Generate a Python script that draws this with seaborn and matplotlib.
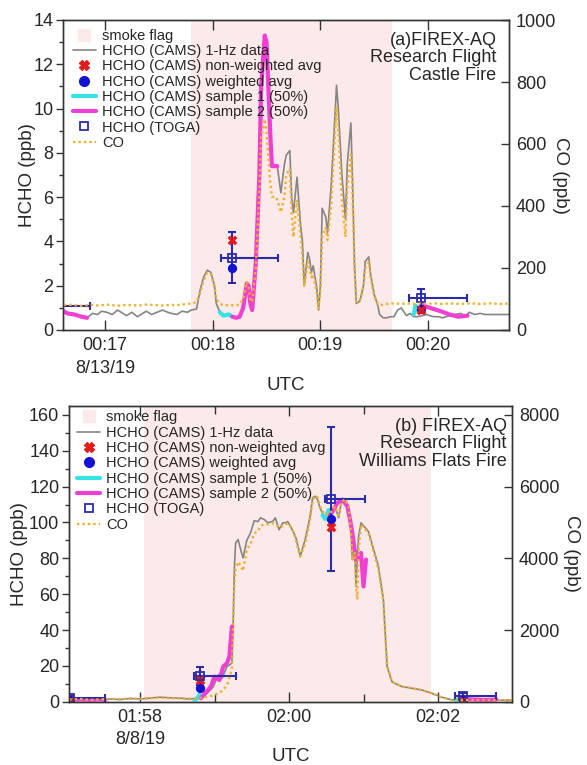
import numpy as np
import pandas as pd
import matplotlib
matplotlib.use("Agg")
import matplotlib.pyplot as plt
from matplotlib.lines import Line2D
from matplotlib.ticker import FixedLocator, FixedFormatter, MultipleLocator
import seaborn as sns

# ---------------- DATA: panel (a) Castle Fire, time in seconds since 00:00 UTC ----------------
a_time = [997, 999, 1003, 1007, 1010, 1013, 1016, 1018, 1021, 1024, 1027, 1030, 1032, 1035, 1038,
          1041, 1043, 1046, 1049, 1052, 1055, 1057, 1060, 1063, 1066, 1068, 1071, 1073, 1075, 1077,
          1079, 1081, 1082, 1084, 1086, 1089, 1091, 1093, 1095, 1097, 1099, 1100, 1101, 1102, 1104,
          1106, 1107, 1109, 1110, 1112, 1113, 1115, 1116, 1118, 1120, 1121, 1123, 1124, 1125, 1127,
          1129, 1130, 1131, 1133, 1134, 1135, 1136, 1138, 1139, 1140, 1141, 1143, 1144, 1146, 1148,
          1149, 1150, 1152, 1154, 1155, 1157, 1158, 1159, 1160, 1162, 1164, 1165, 1167, 1168, 1170,
          1172, 1173, 1175, 1177, 1179, 1181, 1183, 1185, 1188, 1190, 1192, 1194, 1197, 1199, 1201,
          1203, 1206, 1208, 1210, 1212, 1215, 1218, 1221, 1223, 1226, 1229, 1232, 1235, 1237, 1240,
          1243, 1245]
a_hcho = [0.85, 0.75, 0.7, 0.6, 0.55, 0.75, 0.7, 0.85, 0.8, 0.7, 0.9, 0.75, 0.65, 0.8, 0.6,
          0.75, 0.85, 0.7, 0.8, 0.9, 0.8, 0.75, 0.7, 0.85, 0.8, 0.9, 0.95, 1.8, 2.4, 2.7,
          2.6, 2.0, 1.2, 0.8, 0.65, 0.7, 0.6, 0.55, 0.6, 1.0, 2.1, 2.0, 1.2, 0.9, 3.0,
          7.0, 11.0, 13.3, 13.0, 9.0, 7.4, 7.4, 7.4, 6.2, 7.5, 7.9, 8.1, 6.0, 5.3, 6.9,
          4.7, 4.0, 2.0, 3.5, 3.2, 2.6, 2.9, 1.9, 0.9, 2.0, 5.5, 5.1, 4.4, 6.5, 9.5,
          11.05, 10.0, 7.0, 5.0, 7.5, 9.35, 6.5, 3.0, 1.2, 1.3, 2.0, 3.1, 3.3, 2.5, 1.6,
          1.1, 0.7, 0.55, 0.55, 0.6, 0.6, 0.9, 1.0, 0.65, 0.75, 0.6, 0.6, 0.65, 0.7, 0.65,
          0.6, 0.6, 0.55, 0.6, 0.65, 0.7, 0.75, 0.65, 0.8, 0.7, 0.75, 0.7, 0.7, 0.7, 0.7,
          0.7, 0.7]
a_co = [80, 82, 80, 78, 80, 81, 79, 80, 82, 80, 78, 80, 81, 80, 79,
        80, 82, 81, 80, 79, 80, 81, 80, 82, 84, 86, 90, 120, 160, 185,
        180, 140, 100, 85, 80, 80, 80, 80, 82, 100, 155, 140, 100, 90, 200,
        450, 620, 680, 640, 480, 430, 430, 420, 380, 430, 500, 520, 380, 300, 420,
        300, 240, 140, 220, 200, 170, 180, 120, 70, 130, 300, 330, 290, 400, 620,
        720, 640, 420, 300, 460, 565, 420, 200, 90, 95, 140, 200, 220, 170, 110,
        85, 80, 82, 84, 85, 86, 85, 84, 86, 85, 84, 86, 85, 84, 85,
        86, 85, 84, 85, 86, 85, 84, 85, 86, 85, 84, 85, 86, 85, 84,
        85, 85]
a_s1_segments = [
    ([1084, 1086, 1089, 1091], [0.8, 0.65, 0.7, 0.6]),
    ([1192, 1193, 1195, 1196], [0.7, 1.1, 0.8, 0.9]),
]
a_s2_segments = [
    ([997, 999, 1003, 1007, 1010], [0.85, 0.75, 0.7, 0.6, 0.55]),
    ([1091, 1093, 1095, 1097, 1099, 1100, 1101, 1102, 1104, 1106, 1107, 1109, 1110, 1112,
      1113, 1115, 1116],
     [0.6, 0.55, 0.6, 1.0, 2.1, 2.0, 1.2, 0.9, 3.0, 7.0, 11.0, 13.3, 13.0, 9.0, 7.4, 7.4, 7.4]),
    ([1196, 1201, 1207, 1212, 1217, 1222], [1.15, 1.0, 0.85, 0.7, 0.6, 0.65]),
]
a_smoke = (1068, 1180)
a_avg_time = [986, 1091, 1196]
a_nonweighted = [1.0, 4.06, 0.9]
a_weighted = [1.0, 2.79, 0.95]
a_toga = [1.07, 3.27, 1.43]
a_toga_yerr = [0.1, 1.15, 0.4]
a_toga_xerr_lo = [6.5, 6.5, 6.5]
a_toga_xerr_hi = [25.6, 25.6, 25.6]

# ---------------- DATA: panel (b) Williams Flats Fire ----------------
b_time = [7023, 7032, 7040, 7048, 7056, 7064, 7072, 7080, 7088, 7096, 7104, 7112, 7120, 7125,
          7128, 7132, 7136, 7139, 7143, 7146, 7150, 7154, 7155, 7156, 7157, 7159, 7161, 7163,
          7166, 7169, 7172, 7175, 7177, 7180, 7183, 7187, 7189, 7192, 7195, 7197, 7199, 7201,
          7204, 7206, 7209, 7213, 7217, 7219, 7221, 7223, 7225, 7229, 7233, 7237, 7240, 7242,
          7245, 7248, 7250, 7251, 7253, 7254, 7255, 7256, 7258, 7264, 7272, 7276, 7279, 7283,
          7291, 7299, 7307, 7315, 7323, 7331, 7339, 7347, 7355, 7363, 7373, 7380]
b_hcho = [1.0, 1.2, 0.8, 1.0, 1.5, 1.2, 1.8, 1.5, 2.0, 2.5, 2.2, 2.0, 1.5, 1.8,
          2.5, 3.5, 6.0, 8.4, 15.0, 13.0, 19.6, 21.5, 43.0, 75.0, 88.6, 90.5, 85.0, 80.2,
          90.0, 94.2, 101.0, 100.5, 102.6, 101.7, 99.8, 100.7, 102.6, 96.0, 99.8, 99.8, 100.5, 98.0,
          94.0, 90.5, 81.1, 90.5, 103.4, 113.8, 114.7, 112.8, 108.0, 102.6, 104.0, 109.0, 102.6, 111.0,
          112.8, 109.0, 94.2, 79.3, 83.0, 64.3, 79.3, 92.0, 99.8, 95.0, 75.6, 57.0, 19.6, 11.0,
          8.4, 7.5, 6.5, 4.7, 2.5, 1.0, 0.8, 1.0, 0.7, 0.9, 0.8, 1.0]
b_co = [60, 75, 50, 65, 80, 70, 90, 80, 100, 110, 100, 95, 85, 90,
        100, 120, 150, 180, 230, 300, 450, 900, 2200, 3300, 3700, 3900, 3800, 3650,
        4250, 4400, 4700, 4750, 4900, 4950, 4950, 4980, 4950, 4850, 4900, 4950, 4980, 4900,
        4700, 4450, 4050, 4400, 5100, 5600, 5750, 5700, 5450, 5200, 5250, 5450, 5200, 5550,
        5650, 5450, 4700, 3950, 4150, 3200, 2850, 4200, 4950, 4700, 3700, 2800, 1000, 560,
        420, 375, 325, 235, 120, 50, 40, 50, 40, 45, 40, 45]
b_s1_segments = [
    ([7124, 7126, 7128], [0.5, 2.0, 4.0]),
    ([7227, 7229, 7232], [104.0, 102.0, 107.0]),
    ([7334, 7338], [1.0, 1.3]),
]
b_s2_segments = [
    ([7023, 7032, 7040, 7048, 7052], [1.0, 1.2, 1.0, 1.2, 1.0]),
    ([7129, 7137, 7140, 7144, 7147, 7150, 7152, 7154], [1.9, 8.4, 14.0, 12.1, 19.6, 21.5, 25.2, 42.0]),
    ([7233, 7235, 7239, 7243, 7247, 7249, 7251, 7254, 7256, 7258, 7260, 7262],
     [104.0, 106.0, 111.0, 112.8, 109.0, 102.0, 94.2, 79.3, 80.0, 83.0, 64.3, 79.3]),
    ([7340, 7350, 7358, 7367], [1.5, 1.2, 1.0, 1.2]),
]
b_smoke = (7083, 7314)
b_avg_time = [7024, 7128, 7234, 7340]
b_nonweighted = [0.5, 12.1, 97.6, 0.5]
b_weighted = [0.8, 7.5, 101.7, 0.8]
b_toga = [2.0, 14.4, 113.2, 3.2]
b_toga_yerr = [1.0, 5.2, 40.0, 1.5]
b_toga_xerr_lo = [5.2, 4.6, 5.4, 6.1]
b_toga_xerr_hi = [27.4, 29.0, 27.6, 26.7]

# ---------------- STYLE ----------------
sns.set_theme(style="ticks")
plt.rcParams["font.family"] = ["Liberation Sans", "DejaVu Sans"]
plt.rcParams["axes.edgecolor"] = "#333333"
plt.rcParams["axes.linewidth"] = 1.0

C_SMOKE = "#fce9e9"
C_GRAY = "#858585"
C_CO = "#eeb12c"
C_CYAN = "#35e3e6"
C_MAG = "#f03fd2"
C_RED = "#e41a1c"
C_BLUE = "#1212d0"
C_TOGA = "#2c2ca8"

fig = plt.figure(figsize=(5.87, 7.65), dpi=100)


def panel(rect, t, hcho, co, s1, s2, smoke, avg_t, nonw, wavg, toga, toga_yerr, xlo, xhi,
          xlim, ylim, colim, coticks, yticks_major, yminor, xmajor, xlabels, xminor, text, text_xy,
          legend_xy, ylpad, colpad):
    ax = fig.add_axes(rect)
    ax2 = ax.twinx()
    ax.axvspan(smoke[0], smoke[1], color=C_SMOKE, lw=0, zorder=0)
    df = pd.DataFrame({"t": t, "hcho": hcho, "co": co})
    sns.lineplot(data=df, x="t", y="hcho", ax=ax, color=C_GRAY, lw=1.2, estimator=None,
                 sort=False, zorder=2)
    for st, sv in s1:
        sns.lineplot(x=st, y=sv, ax=ax, color=C_CYAN, lw=3, estimator=None, sort=False, zorder=3)
    for st, sv in s2:
        sns.lineplot(x=st, y=sv, ax=ax, color=C_MAG, lw=3, estimator=None, sort=False, zorder=3)
    ax.errorbar(avg_t, toga, yerr=toga_yerr, xerr=[xlo, xhi], fmt="none", ecolor=C_TOGA,
                elinewidth=1.5, capsize=3, capthick=1.5, zorder=4)
    sns.scatterplot(x=avg_t, y=wavg, ax=ax, color=C_BLUE, marker="o", s=45, edgecolor=C_BLUE,
                    linewidth=0, zorder=5)
    sns.scatterplot(x=avg_t, y=nonw, ax=ax, color=C_RED, marker="X", s=50, edgecolor=C_RED,
                    linewidth=0, zorder=6)
    ax.plot(avg_t, toga, "s", mfc="none", mec=C_TOGA, ms=6, mew=1.3, zorder=7)
    sns.lineplot(data=df, x="t", y="co", ax=ax2, color=C_CO, lw=1.7, ls=(0, (1, 1.3)),
                 estimator=None, sort=False)

    ax.set_xlim(*xlim)
    ax.set_ylim(*ylim)
    ax2.set_ylim(*colim)
    ax.xaxis.set_major_locator(FixedLocator(xmajor))
    ax.xaxis.set_major_formatter(FixedFormatter(xlabels))
    ax.xaxis.set_minor_locator(FixedLocator(xminor))
    ax.yaxis.set_major_locator(FixedLocator(yticks_major))
    ax.yaxis.set_minor_locator(MultipleLocator(yminor))
    ax2.yaxis.set_major_locator(FixedLocator(coticks))
    ax.tick_params(axis="x", which="major", direction="in", top=True, bottom=True, length=7,
                   width=1, labelsize=13, pad=5, color="#333333")
    ax.tick_params(axis="x", which="minor", direction="in", top=True, bottom=True, length=6,
                   width=1, color="#333333")
    ax.tick_params(axis="y", which="major", direction="out", length=5, width=1, labelsize=13,
                   pad=2, color="#333333")
    ax.tick_params(axis="y", which="minor", direction="out", length=3, width=1, color="#333333")
    ax2.tick_params(axis="y", which="major", direction="in", length=6, width=1, labelsize=13,
                    pad=5, color="#333333")
    for lab in ax.get_xticklabels():
        lab.set_linespacing(1.45)
    ax.set_xlabel("UTC", fontsize=13.5, labelpad=0)
    ax.set_ylabel("HCHO (ppb)", fontsize=13.5, labelpad=ylpad)
    ax2.set_ylabel("CO (ppb)", fontsize=13.5, rotation=270, labelpad=colpad)
    for a in (ax, ax2):
        for s in a.spines.values():
            s.set_color("#333333")
    ax.text(text_xy[0], text_xy[1], text, transform=ax.transAxes, ha="right", va="top",
            fontsize=13, linespacing=1.05, zorder=8)

    handles = [
        Line2D([], [], ls="none", marker="s", ms=8, mfc=C_SMOKE, mec=C_SMOKE),
        Line2D([], [], color=C_GRAY, lw=1.2),
        Line2D([], [], ls="none", marker="X", ms=7, mfc=C_RED, mec=C_RED),
        Line2D([], [], ls="none", marker="o", ms=7, mfc=C_BLUE, mec=C_BLUE),
        Line2D([], [], color=C_CYAN, lw=3),
        Line2D([], [], color=C_MAG, lw=3),
        Line2D([], [], ls="none", marker="s", ms=6, mfc="none", mec=C_TOGA, mew=1.3),
        Line2D([], [], color=C_CO, lw=1.7, ls=(0, (1, 1.3))),
    ]
    labels = ["smoke flag", "HCHO (CAMS) 1-Hz data", "HCHO (CAMS) non-weighted avg",
              "HCHO (CAMS) weighted avg", "HCHO (CAMS) sample 1 (50%)",
              "HCHO (CAMS) sample 2 (50%)", "HCHO (TOGA)", "CO"]
    ax2.legend(handles, labels, loc="upper left", bbox_to_anchor=legend_xy, frameon=False,
               fontsize=10.5, handlelength=1.6, handletextpad=0.4, labelspacing=0.09,
               borderaxespad=0, borderpad=0)
    return ax, ax2


panel([63 / 587, 1 - 330 / 765, 446 / 587, 310 / 765],
      a_time, a_hcho, a_co, a_s1_segments, a_s2_segments, a_smoke,
      a_avg_time, a_nonweighted, a_weighted, a_toga, a_toga_yerr, a_toga_xerr_lo, a_toga_xerr_hi,
      xlim=(996.6, 1245.1), ylim=(0, 14), colim=(0, 1000), coticks=[0, 200, 400, 600, 800, 1000],
      yticks_major=[0, 2, 4, 6, 8, 10, 12, 14], yminor=1,
      xmajor=[1020, 1080, 1140, 1200], xlabels=["00:17\n8/13/19", "00:18", "00:19", "00:20"],
      xminor=[], text="(a)FIREX-AQ\nResearch Flight\nCastle Fire", text_xy=(0.972, 0.962),
      legend_xy=(0.022, 0.972), ylpad=-2, colpad=9)

panel([69 / 587, 1 - 701.7 / 765, 443 / 587, 295.7 / 765],
      b_time, b_hcho, b_co, b_s1_segments, b_s2_segments, b_smoke,
      b_avg_time, b_nonweighted, b_weighted, b_toga, b_toga_yerr, b_toga_xerr_lo, b_toga_xerr_hi,
      xlim=(7022.8, 7379.6), ylim=(0, 165), colim=(0, 8250),
      coticks=[0, 2000, 4000, 6000, 8000],
      yticks_major=[0, 20, 40, 60, 80, 100, 120, 140, 160], yminor=10,
      xmajor=[7080, 7200, 7320], xlabels=["01:58\n8/8/19", "02:00", "02:02"],
      xminor=[7140, 7260], text="(b) FIREX-AQ\nResearch Flight\nWilliams Flats Fire",
      text_xy=(0.988, 0.96), legend_xy=(0.018, 0.985), ylpad=0.5, colpad=15)

fig.savefig("out.png", dpi=100)
